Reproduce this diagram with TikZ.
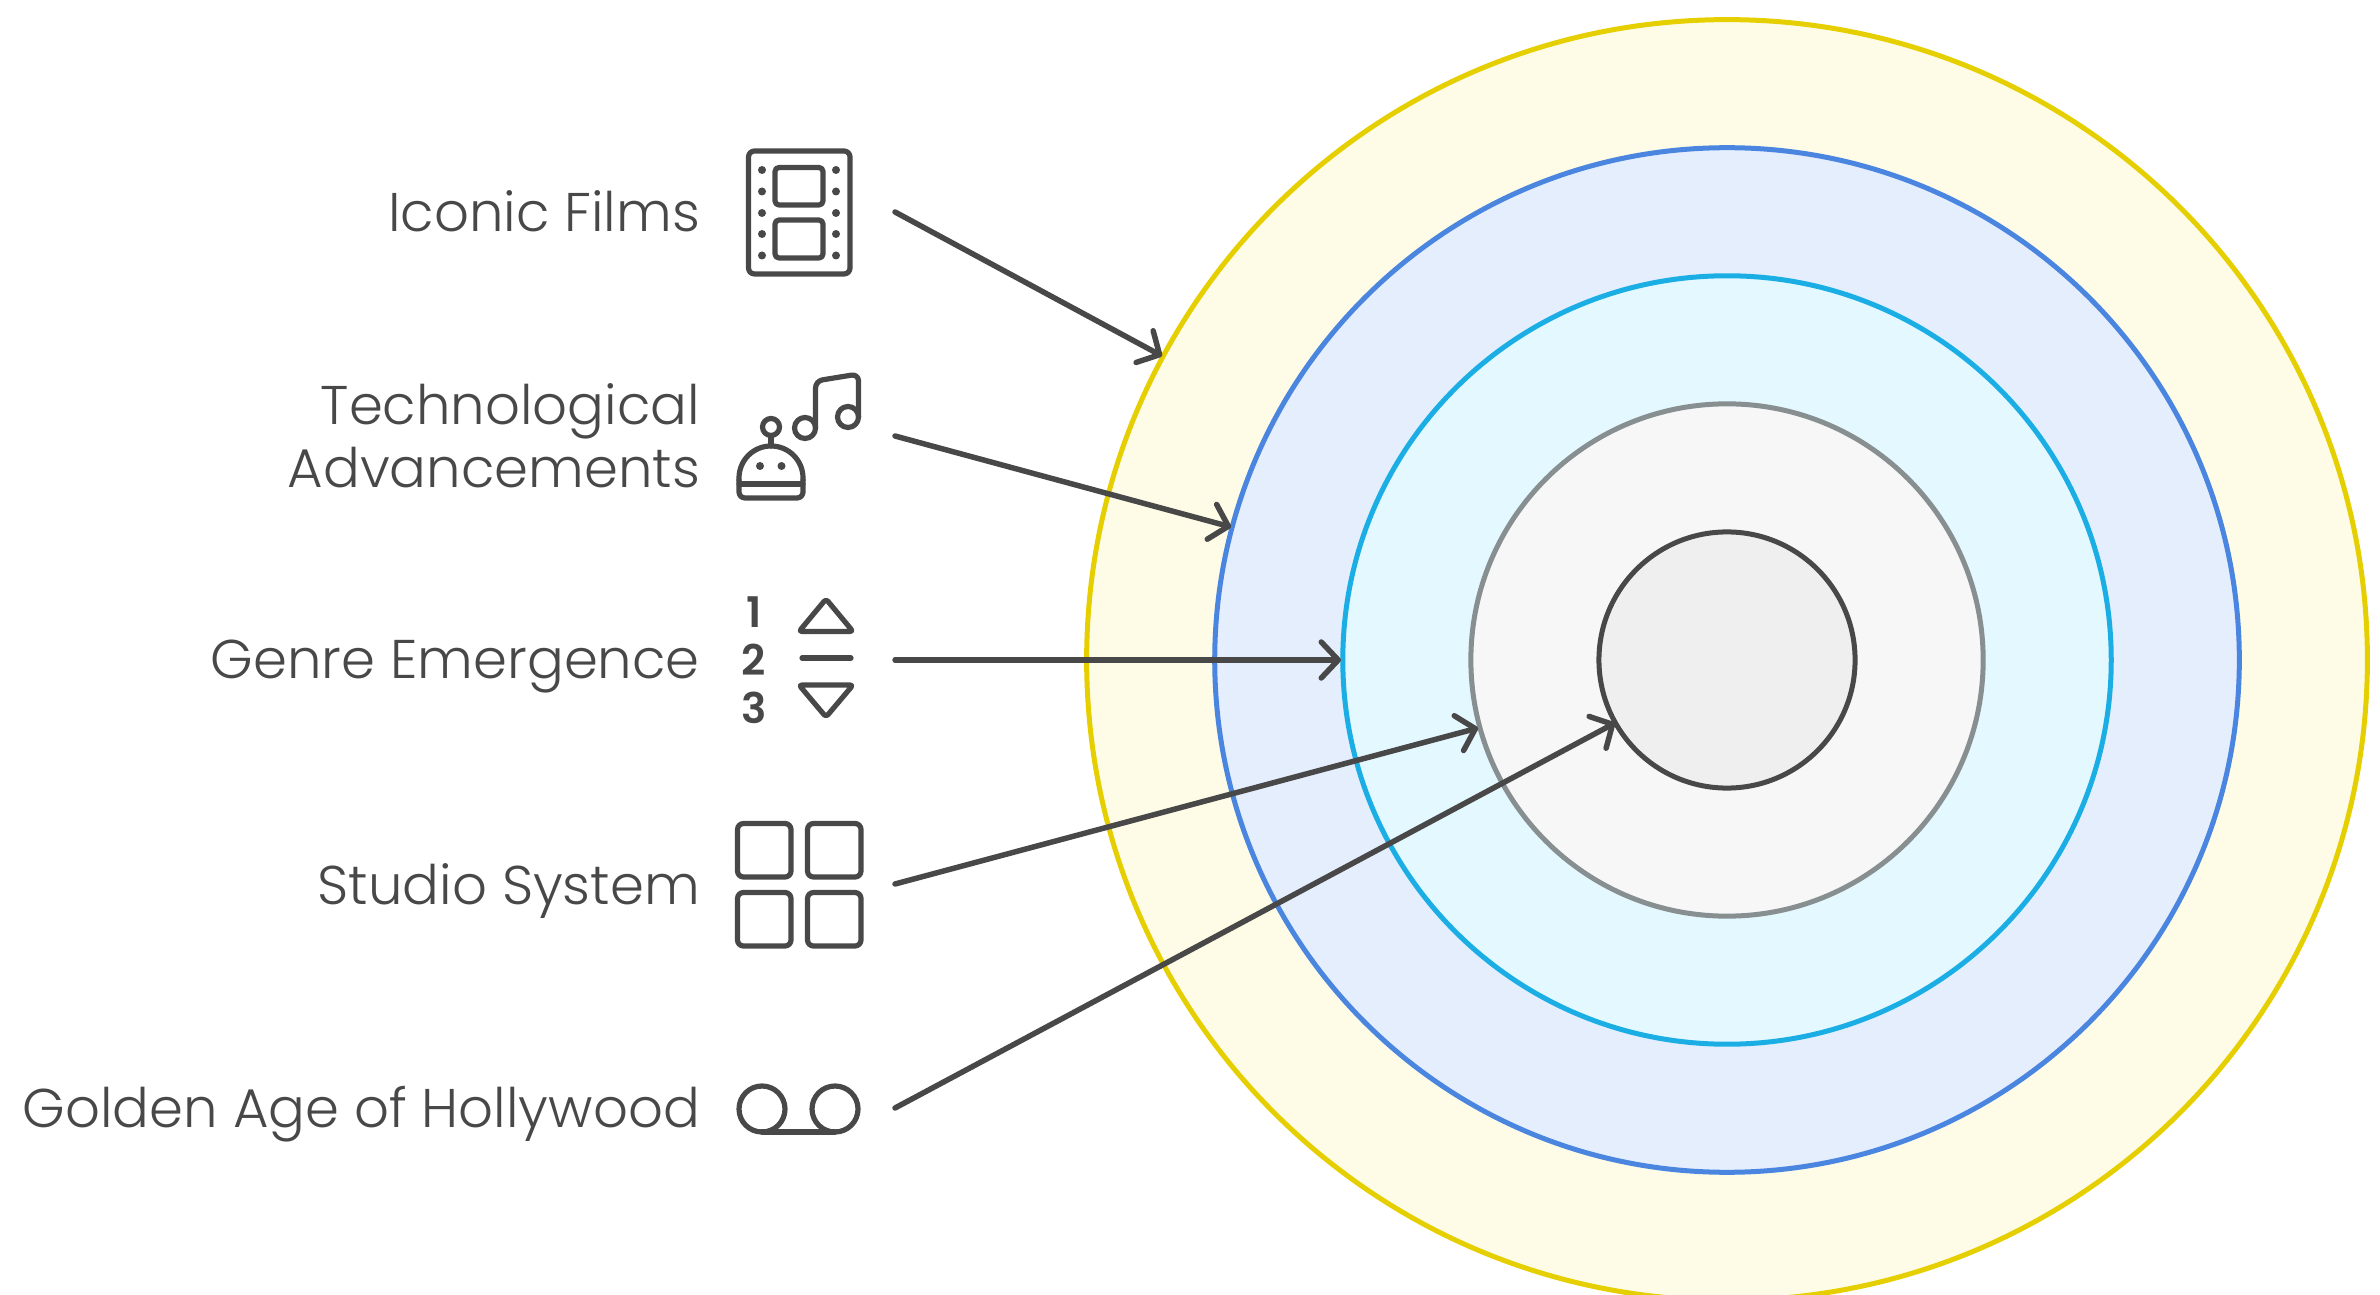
\documentclass[tikz,border=0pt]{standalone}
\usepackage{fontspec}
\setmainfont{Poppins Light}
\newfontfamily\digitfont{Poppins SemiBold}
\usetikzlibrary{arrows.meta}
\definecolor{inkgrey}{HTML}{484848}
\definecolor{ringyellow}{HTML}{E5CF00}
\definecolor{fillyellow}{HTML}{FEFCE6}
\definecolor{ringblue}{HTML}{4A86E0}
\definecolor{fillblue}{HTML}{E5EEFD}
\definecolor{ringcyan}{HTML}{1AAEE5}
\definecolor{fillcyan}{HTML}{E4F8FF}
\definecolor{ringgrey}{HTML}{888F91}
\definecolor{fillgrey}{HTML}{F7F7F7}
\definecolor{fillcore}{HTML}{EFEFEF}
\tikzset{
	ring/.style={circle, line width=0.05cm, inner sep=0pt, outer sep=0pt},
	label/.style={anchor=base east, inner sep=0pt, text=inkgrey, font=\fontsize{15.5}{18.1}\selectfont, align=right},
	digit/.style={inner sep=0pt, text=inkgrey, font=\digitfont\fontsize{12}{12}\selectfont},
	icon/.style={line width=0.052cm, color=inkgrey, line cap=round, line join=round},
	pointer/.style={line width=0.055cm, color=inkgrey, line cap=round, -{Straight Barb[length=0.17cm,width=0.36cm,round]}},
}

\begin{document}
\begin{tikzpicture}[x=0.01cm, y=-0.01cm]
			%%%%% START %%%%%
			\useasboundingbox (0, 0) rectangle (2380, 1295);
			\clip (0, 0) rectangle (2380, 1295);
			
			\node[ring, minimum size=12.8cm, draw=ringyellow, fill=fillyellow] (yellowring) at (1727, 660) {};
			\node[ring, minimum size=10.24cm, draw=ringblue, fill=fillblue] (bluering) at (1727, 660) {};
			\node[ring, minimum size=7.68cm, draw=ringcyan, fill=fillcyan] (cyanring) at (1727, 660) {};
			\node[ring, minimum size=5.12cm, draw=ringgrey, fill=fillgrey] (greyring) at (1727, 660) {};
			\node[ring, minimum size=2.56cm, draw=inkgrey, fill=fillcore] (corering) at (1727, 660) {};
			
			\node[label] (filmslabel) at (700.5, 232) {Iconic Films};
			\node[label] (techlabel) at (700.5, 488) {Technological\\Advancements};
			\node[label] (genrelabel) at (700.5, 679) {Genre Emergence};
			\node[label] (studiolabel) at (700.5, 904) {Studio System};
			\node[label] (goldenlabel) at (700.5, 1127) {Golden Age of Hollywood};
			
			% film strip
			\draw[icon, rounded corners=0.06cm] (748.5, 151) rectangle (850, 274);
			\draw[icon, rounded corners=0.04cm] (775, 167.5) rectangle (823, 205);
			\draw[icon, rounded corners=0.04cm] (775, 220) rectangle (823, 258);
			\foreach \y in {170, 191.5, 213, 234, 255.5} {
				\fill[inkgrey] (762, \y) circle[radius=4];
				\fill[inkgrey] (836, \y) circle[radius=4];
			}
			
			% robot and notes
			\draw[icon, rounded corners=0.06cm] (739, 480) -- (739, 498) -- (803, 498) -- (803, 480);
			\draw[icon] (739, 480) -- (739, 478) arc[start angle=180, end angle=360, radius=32] -- (803, 480);
			\draw[icon] (739, 484) -- (803, 484);
			\draw[icon] (771, 427) circle[radius=8.5];
			\draw[icon] (771, 436) -- (771, 446);
			\fill[inkgrey] (760, 466) circle[radius=4];
			\fill[inkgrey] (781.5, 466) circle[radius=4];
			\draw[icon] (805, 428) circle[radius=10.5];
			\draw[icon] (848, 417) circle[radius=10.5];
			\draw[icon, rounded corners=0.07cm] (815.5, 428) -- (815.5, 381) -- (858.5, 374) -- (858.5, 417);
			
			% ranking
			\node[digit] (digitone) at (754, 612) {1};
			\node[digit] (digittwo) at (754, 660) {2};
			\node[digit] (digitthree) at (754, 708) {3};
			\draw[icon, rounded corners=0.03cm] (826, 599) -- (853, 631.5) -- (799, 631.5) -- cycle;
			\draw[icon] (802, 658) -- (851, 658);
			\draw[icon, rounded corners=0.03cm] (826, 717) -- (853, 685) -- (799, 685) -- cycle;
			
			% studio grid
			\draw[icon, rounded corners=0.06cm] (737.5, 823.5) rectangle (791, 877);
			\draw[icon, rounded corners=0.06cm] (807.5, 823.5) rectangle (861, 877);
			\draw[icon, rounded corners=0.06cm] (737.5, 892.5) rectangle (791, 946);
			\draw[icon, rounded corners=0.06cm] (807.5, 892.5) rectangle (861, 946);
			
			% reels
			\draw[icon] (762, 1109) circle[radius=23];
			\draw[icon] (835, 1109) circle[radius=23];
			\draw[icon] (762, 1132) -- (835, 1132);
			
			\coordinate (filmsstart) at (895, 212);
			\coordinate (filmstip) at (1162, 356);
			\coordinate (techstart) at (895, 436);
			\coordinate (techtip) at (1231, 527);
			\coordinate (genrestart) at (895, 660);
			\coordinate (genretip) at (1341, 660);
			\coordinate (studiostart) at (895, 884);
			\coordinate (studiotip) at (1478, 728);
			\coordinate (goldenstart) at (895, 1108);
			\coordinate (goldentip) at (1615, 723);
			
			\draw[pointer] (filmsstart) -- (filmstip);
			\draw[pointer] (techstart) -- (techtip);
			\draw[pointer] (genrestart) -- (genretip);
			\draw[pointer] (studiostart) -- (studiotip);
			\draw[pointer] (goldenstart) -- (goldentip);
			%%%%% END %%%%%
\end{tikzpicture}
\end{document}
